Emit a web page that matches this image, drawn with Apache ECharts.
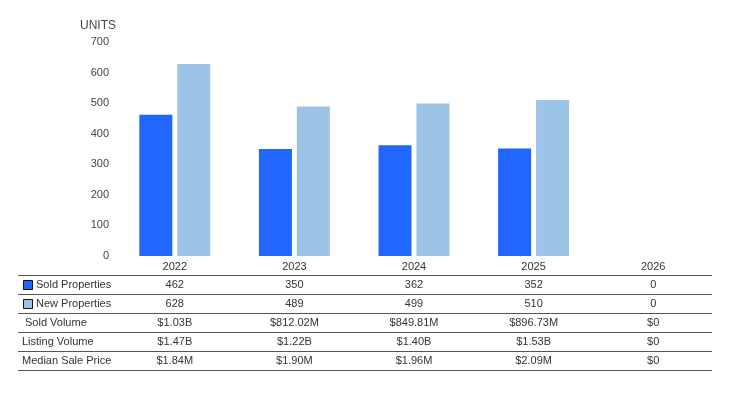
<!DOCTYPE html>
<html><head><meta charset="utf-8">
<script src="https://cdn.jsdelivr.net/npm/echarts@6/dist/echarts.min.js"></script>
<style>html,body{margin:0;padding:0;background:#fff}#c{width:729px;height:395px}</style>
</head><body><div id="c"></div>
<script>
const years = ['2022','2023','2024','2025','2026'];
const soldProperties = [462, 350, 362, 352, 0];
const newProperties = [628, 489, 499, 510, 0];
const soldVolume = ['$1.03B','$812.02M','$849.81M','$896.73M','$0'];
const listingVolume = ['$1.47B','$1.22B','$1.40B','$1.53B','$0'];
const medianSalePrice = ['$1.84M','$1.90M','$1.96M','$2.09M','$0'];
const yTicks = [0,100,200,300,400,500,600,700];

const darkBlue = '#2166FF', lightBlue = '#9DC3E6';
const font = 'Liberation Sans, Arial, sans-serif';
const chart = echarts.init(document.getElementById('c'), null, {renderer:'canvas'});
chart.setOption({
  animation:false,
  grid:{left:115, right:16, top:42, bottom:139},
  xAxis:{type:'category', data:years, axisLine:{show:false}, axisTick:{show:false},
    axisLabel:{color:'#333', fontSize:11, fontFamily:font, margin:5}},
  yAxis:{type:'value', min:yTicks[0], max:yTicks[yTicks.length-1], interval:100,
    splitLine:{show:false}, axisLabel:{color:'#444', fontSize:11, fontFamily:font, margin:6},
    name:'UNITS', nameLocation:'end', nameGap:10, nameTextStyle:{color:'#444', fontSize:12, fontFamily:font, align:'right', padding:[0,-1,0,0]}},
  series:[
    {name:'Sold Properties', type:'bar', data:soldProperties, barWidth:33, barGap:'15%', itemStyle:{color:darkBlue}},
    {name:'New Properties', type:'bar', data:newProperties, barWidth:33, barGap:'15%', itemStyle:{color:lightBlue}}
  ]
});

const rows = [
  {label:'Sold Properties', vals:soldProperties.map(String), marker:darkBlue, lx:36},
  {label:'New Properties', vals:newProperties.map(String), marker:lightBlue, lx:36},
  {label:'Sold Volume', vals:soldVolume, lx:25},
  {label:'Listing Volume', vals:listingVolume, lx:22},
  {label:'Median Sale Price', vals:medianSalePrice, lx:22}
];
const lineYs = [275.5, 294.5, 313.5, 332.5, 351.5, 370.5];
const els = [];
lineYs.forEach(y => els.push({type:'line', shape:{x1:18, y1:y, x2:712, y2:y}, style:{stroke:'#555', lineWidth:1}, silent:true}));
rows.forEach((r, i) => {
  const cy = (lineYs[i] + lineYs[i+1]) / 2;
  if (r.marker) els.push({type:'rect', shape:{x:23.5, y:cy-4.5, width:9, height:9}, style:{fill:r.marker, stroke:'#111', lineWidth:1}});
  els.push({type:'text', x:r.lx, y:cy, style:{text:r.label, fill:'#333', font:'11px '+font, textAlign:'left', textVerticalAlign:'middle'}});
  r.vals.forEach((v, j) => {
    const x = chart.convertToPixel({xAxisIndex:0}, years[j]);
    els.push({type:'text', x:x, y:cy, style:{text:v, fill:'#333', font:'11px '+font, textAlign:'center', textVerticalAlign:'middle'}});
  });
});
chart.setOption({graphic:{elements:els}});
</script></body></html>
